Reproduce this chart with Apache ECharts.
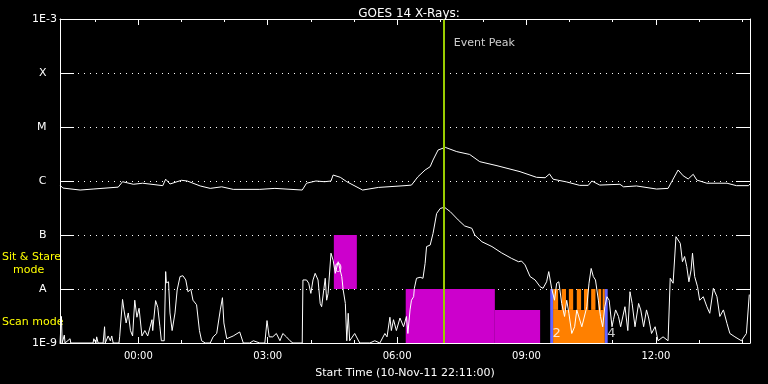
<!DOCTYPE html>
<html><head><meta charset="utf-8">
<script src="https://cdn.jsdelivr.net/npm/echarts@6/dist/echarts.min.js"></script>
<style>html,body{margin:0;padding:0;background:#000}#c{width:768px;height:384px}</style>
</head><body><div id="c"></div>
<script>
// x values: minutes after 10-Nov-11 22:00 UT
const longTime = [11,15,39,57,92,94,98,113,126,154,
  158,164,180,188,206,220,236,252,289,310,
  348,354,367,379,388,391,401,410,432,454,
  491,500,509,519,526,530,537,547,563,581,
  595,619,651,674,686,692,697,716,734,746,
  751,762,790,795,813,841,857,862,871,878,
  885,892,897,911,939,952,969,971];
const longFlux = [8.4e-7,7.4e-7,6.8e-7,7.1e-7,7.7e-7,7.8e-7,9.7e-7,8.7e-7,9.1e-7,8.2e-7,
  1.08e-6,8.8e-7,1.03e-6,1.0e-6,8.1e-7,7.3e-7,7.8e-7,7.0e-7,7.0e-7,7.3e-7,
  6.8e-7,9.1e-7,1.0e-6,9.7e-7,1.0e-6,1.29e-6,1.17e-6,9.7e-7,6.8e-7,7.6e-7,
  8.2e-7,8.4e-7,1.2e-6,1.6e-6,1.84e-6,2.45e-6,3.75e-6,4.2e-6,3.5e-6,3.1e-6,
  2.28e-6,1.92e-6,1.49e-6,1.17e-6,1.15e-6,1.35e-6,1.08e-6,9.6e-7,8.3e-7,8.3e-7,
  1.0e-6,8.4e-7,8.7e-7,7.8e-7,8.1e-7,7.1e-7,7.3e-7,9.7e-7,1.6e-6,1.25e-6,
  1.09e-6,1.33e-6,1.04e-6,9.1e-7,9.1e-7,8.2e-7,8.2e-7,8.8e-7];
const shortTime = [11,13,14,17,18,25,26,57,58,61,
  62,64,71,73,74,78,81,83,85,93,
  94,98,100,103,106,109,112,115,118,121,
  125,129,133,139,140,144,147,150,152,156,
  158,159,162,164,167,171,174,178,182,186,
  189,193,196,201,205,208,213,220,224,229,
  234,237,239,243,252,261,266,275,280,289,
  296,299,302,307,312,317,321,326,331,335,
  345,348,349,354,357,360,363,366,370,373,
  375,380,382,384,388,391,394,398,403,405,
  408,410,412,414,421,428,442,449,456,463,
  466,470,472,475,479,484,489,493,495,498,
  500,503,504,507,512,516,519,521,526,530,
  535,540,546,554,565,574,584,588,598,612,
  625,639,649,653,658,665,672,679,683,688,
  691,695,699,702,705,709,713,716,719,723,
  727,730,737,744,747,750,753,756,760,763,
  766,769,772,775,779,781,784,788,791,797,
  801,804,807,811,816,819,823,827,830,834,
  839,843,850,857,860,864,868,870,874,877,
  880,883,886,889,891,894,898,901,906,911,
  915,920,925,929,934,939,943,950,959,966,970];
const shortFlux = [1e-9,3.1e-9,1e-9,1.4e-9,1e-9,1.2e-9,1e-9,1e-9,1.2e-9,1e-9,
  1.3e-9,1e-9,1e-9,2.0e-9,1e-9,1.35e-9,1.1e-9,1.35e-9,1e-9,1e-9,
  1.3e-9,6.4e-9,4.1e-9,2.35e-9,3.6e-9,1.7e-9,1.35e-9,6.2e-9,3.0e-9,4.4e-9,
  1.35e-9,1.7e-9,1.35e-9,2.7e-9,1.7e-9,6.1e-9,4.6e-9,2.0e-9,1.1e-9,1.1e-9,
  2.1e-8,1.3e-8,1.36e-8,3.6e-9,1.7e-9,3.6e-9,9.6e-9,1.7e-8,1.76e-8,1.47e-8,
  8.9e-9,9.9e-9,6.2e-9,5.1e-9,1.7e-9,1.1e-9,1e-9,1e-9,1.3e-9,1.5e-9,
  4.1e-9,6.9e-9,2.35e-9,1.2e-9,1.35e-9,1.6e-9,1e-9,1e-9,1.1e-9,1e-9,
  1e-9,2.6e-9,1.3e-9,1.3e-9,1.5e-9,1.1e-9,1.5e-9,1.3e-9,1.1e-9,1e-9,
  1e-9,1e-9,1.47e-8,1.47e-8,1.28e-8,8.3e-9,1.47e-8,1.95e-8,1.47e-8,5.4e-9,
  4.7e-9,1.58e-8,6.2e-9,8.3e-9,4.6e-8,3.4e-8,1.95e-8,3.2e-8,1.7e-8,9.6e-9,
  5.4e-9,1.1e-9,3.55e-9,1.1e-9,1.5e-9,1e-9,1e-9,1.1e-9,1e-9,1.5e-9,
  1.3e-9,3.0e-9,1.7e-9,2.7e-9,1.7e-9,2.9e-9,2.0e-9,3.1e-9,1.5e-9,4.1e-9,
  6.2e-9,7.2e-9,1.03e-8,1.58e-8,1.65e-8,1.58e-8,3.0e-8,6.1e-8,6.5e-8,1.07e-7,
  2.5e-7,3.1e-7,3.26e-7,2.7e-7,1.9e-7,1.47e-7,1.33e-7,1.0e-7,7.5e-8,6.1e-8,
  4.7e-8,3.7e-8,3.2e-8,3.3e-8,2.8e-8,1.7e-8,1.47e-8,1.1e-8,1.03e-8,1.36e-8,
  2.1e-8,1.03e-8,6.2e-9,1.28e-8,1.36e-8,5.4e-9,3.1e-9,6.2e-9,3.55e-9,1.5e-9,
  2.0e-9,4.1e-9,2.0e-9,4.7e-9,1.28e-8,2.4e-8,1.7e-8,1.47e-8,6.2e-9,3.1e-9,
  2.0e-9,4.7e-9,7.2e-9,6.2e-9,2.0e-9,2.7e-9,4.1e-9,3.1e-9,2.0e-9,4.7e-9,
  1.7e-9,8.9e-9,5.4e-9,2.0e-9,5.4e-9,4.1e-9,2.0e-9,4.1e-9,2.9e-9,1.5e-9,
  2.0e-9,1.1e-9,1.3e-9,1.1e-9,1.58e-8,1.28e-8,9.3e-8,1.0e-7,7.0e-8,3.2e-8,
  4.0e-8,2.6e-8,1.36e-8,2.25e-8,4.6e-8,1.7e-8,1.1e-8,6.2e-9,7.2e-9,4.7e-9,
  3.55e-9,1.03e-8,7.2e-9,3.1e-9,4.1e-9,2.3e-9,1.5e-9,1.3e-9,1.1e-9,1.5e-9,7.9e-9];

const majorTicks = [120,300,480,660,840];          // 00:00 ... 12:00
const minorTicks = [60,180,240,360,420,540,600,720,780,900,960];
const classLabels = {'-3':'1E-3','-4':'X','-5':'M','-6':'C','-7':'B','-8':'A','-9':'1E-9'};
const eventPeakTime = 545;      // 07:05
const eventPeakLabelFlux = 3.6e-4;
// [start, end, lowFlux, highFlux, mode]
const modeBlocks = [
  [392,424,1e-8,1e-7,'stare'],
  [492,616,1e-9,1e-8,'stare'],
  [616,679,1e-9,4.1e-9,'stare'],
  [697,769,1e-9,4.1e-9,'scan'],
  [697,704,4.1e-9,1e-8,'scan'],
  [709,715,4.1e-9,1e-8,'scan'],
  [719,725,4.1e-9,1e-8,'scan'],
  [730,736,4.1e-9,1e-8,'scan'],
  [740,746,4.1e-9,1e-8,'scan'],
  [750,756,4.1e-9,1e-8,'scan'],
  [760,764,4.1e-9,1e-8,'scan'],
  [766,769,4.1e-9,1e-8,'scan'],
  [693,697,1e-9,1e-8,'edge'],
  [769,773,1e-9,1e-8,'edge']
];
const blockLabels = [[398,2.4e-8,'0'],[702,1.47e-9,'2'],[778,1.47e-9,'4']];

const modeColors = {stare:'#cc00cc', scan:'#ff8000', edge:'#6464ff'};
const FONT = 'DejaVu Sans';
function hhmm(m){ const t = (m + 22*60) % (24*60); const h = Math.floor(t/60), mi = t%60; return String(h).padStart(2,'0')+':'+String(mi).padStart(2,'0'); }

const chart = echarts.init(document.getElementById('c'), null, {renderer:'canvas'});
const xBase = {type:'value', min:11, max:971, gridIndex:0, splitLine:{show:false}};
const tickStyle = {color:'#fff', width:1};
chart.setOption({
  backgroundColor:'#000',
  animation:false,
  title:{text:'GOES 14 X-Rays:', left:404, top:3, textAlign:'center',
    textStyle:{color:'#fff', fontFamily:FONT, fontSize:12, fontWeight:'normal'}},
  grid:{left:60, right:18, top:19, bottom:41, containLabel:false},
  xAxis:[
    Object.assign({}, xBase, {position:'bottom',
      axisLine:{show:true, lineStyle:{color:'#fff', width:1}},
      axisTick:{show:true, inside:true, length:6, customValues:majorTicks, lineStyle:tickStyle},
      axisLabel:{show:true, customValues:majorTicks, formatter:v=>hhmm(v), color:'#fff', fontFamily:FONT, fontSize:10, margin:8},
      name:'Start Time (10-Nov-11 22:11:00)', nameLocation:'middle', nameGap:25,
      nameTextStyle:{color:'#fff', fontFamily:FONT, fontSize:11}}),
    Object.assign({}, xBase, {position:'bottom', axisLine:{show:false},
      axisTick:{show:true, inside:true, length:3, customValues:minorTicks, lineStyle:tickStyle},
      axisLabel:{show:false}}),
    Object.assign({}, xBase, {position:'top',
      axisLine:{show:true, lineStyle:{color:'#fff', width:1}},
      axisTick:{show:true, inside:true, length:6, customValues:majorTicks, lineStyle:tickStyle},
      axisLabel:{show:false}}),
    Object.assign({}, xBase, {position:'top', axisLine:{show:false},
      axisTick:{show:true, inside:true, length:3, customValues:minorTicks, lineStyle:tickStyle},
      axisLabel:{show:false}})
  ],
  yAxis:[
    {type:'log', logBase:10, min:1e-9, max:1e-3, position:'left',
      axisLine:{show:true, lineStyle:{color:'#fff', width:1}},
      axisTick:{show:true, inside:true, length:14, lineStyle:tickStyle},
      axisLabel:{color:'#fff', fontFamily:FONT, fontSize:11, margin:3,
        formatter:v=>{ const k = String(Math.round(Math.log10(v))); const s = classLabels[k]||''; return s.length===1 ? s+'   ' : s; }},
      splitLine:{show:true, lineStyle:{color:'#fff', width:1, type:[1,5]}}},
    {type:'log', logBase:10, min:1e-9, max:1e-3, position:'right',
      axisLine:{show:true, lineStyle:{color:'#fff', width:1}},
      axisTick:{show:true, inside:true, length:14, lineStyle:tickStyle},
      axisLabel:{show:false}, splitLine:{show:false}}
  ],
  graphic:[
    {type:'text', left:2, top:252, style:{text:'Sit & Stare', fill:'#ffff00', font:'11px "DejaVu Sans"'}},
    {type:'text', left:13, top:265, style:{text:'mode', fill:'#ffff00', font:'11px "DejaVu Sans"'}},
    {type:'text', left:2, top:317, style:{text:'Scan mode', fill:'#ffff00', font:'11px "DejaVu Sans"'}}
  ],
  series:[
    {type:'custom', xAxisIndex:0, yAxisIndex:0, z:1, clip:true,
      encode:{x:[0,1], y:[2,3]},
      data: modeBlocks.map(b=>[b[0],b[1],b[2],b[3]]),
      renderItem:(params, api)=>{
        const p0 = api.coord([api.value(0), api.value(3)]);
        const p1 = api.coord([api.value(1), api.value(2)]);
        return {type:'rect', shape:{x:p0[0], y:p0[1], width:p1[0]-p0[0], height:p1[1]-p0[1]},
          style:{fill: modeColors[modeBlocks[params.dataIndex][4]]}};
      }},
    {type:'line', name:'long', xAxisIndex:0, yAxisIndex:0, z:2, showSymbol:false, symbol:'none',
      data: longTime.map((t,i)=>[t,longFlux[i]]), lineStyle:{color:'#fff', width:1}, silent:true},
    {type:'line', name:'short', xAxisIndex:0, yAxisIndex:0, z:2, showSymbol:false, symbol:'none',
      data: shortTime.map((t,i)=>[t,shortFlux[i]]), lineStyle:{color:'#fff', width:1}, silent:true},
    {type:'scatter', xAxisIndex:0, yAxisIndex:0, z:4, symbolSize:0,
      data: blockLabels.map(b=>({value:[b[0],b[1]], label:{formatter:b[2]}})),
      label:{show:true, position:'inside', color:'#fff', fontFamily:FONT, fontSize:13}},
    {type:'scatter', xAxisIndex:0, yAxisIndex:0, z:5, symbolSize:0,
      data:[[eventPeakTime, eventPeakLabelFlux]],
      label:{show:true, position:'right', distance:10, formatter:'Event Peak', color:'#fff', fontFamily:FONT, fontSize:11},
      markLine:{silent:true, symbol:'none', label:{show:false},
        lineStyle:{color:'#9acd00', width:2, type:'solid'},
        data:[{xAxis:eventPeakTime}]}}
  ]
});
</script></body></html>
